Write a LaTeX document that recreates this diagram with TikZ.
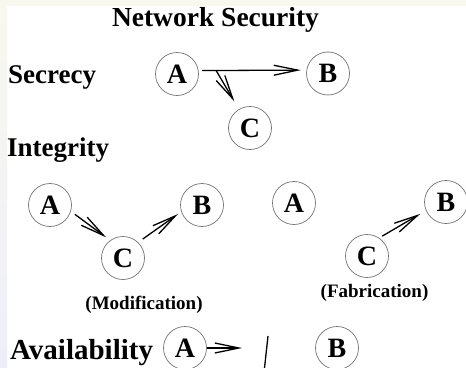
\documentclass[tikz,border=0pt]{standalone}
\usepackage{fontspec}
\setmainfont{Liberation Serif}
\usetikzlibrary{arrows.meta}
\definecolor{paper}{RGB}{248,248,238}
\definecolor{haze}{RGB}{238,238,250}
\begin{document}
\begin{tikzpicture}[x=1pt,y=-1pt,
  site/.style={circle, draw=black!55, line width=0.7pt, minimum size=43pt,
    inner sep=0pt, font=\fontsize{28}{28}\selectfont\bfseries},
  flow/.style={line width=1.3pt,
    -{Straight Barb[length=24pt,width=10pt,line width=1.3pt]}},
  heading/.style={anchor=base west, inner sep=0pt,
    font=\fontsize{27}{27}\selectfont\bfseries},
  caption/.style={anchor=base, inner sep=0pt,
    font=\fontsize{19}{19}\selectfont\bfseries}]
  \useasboundingbox (0,0) rectangle (466,367);
  \clip (0,0) rectangle (466,367);
  % page background with the slide frame along the top and left
  \fill[white] (0,0) rectangle (466,367);
  \fill[paper] (0,0) rectangle (466,6);
  \shade[top color=paper, bottom color=haze] (0,6) rectangle (7,367);

  % title
  \node[anchor=base, inner sep=0pt, font=\fontsize{27.5}{27.5}\selectfont\bfseries]
    (title) at (215.5,26) {Network Security};

  % secrecy: C listens in on A -> B
  \node[heading] (sec) at (8,83) {Secrecy};
  \node[site] (sA) at (177,74) {A};
  \node[site] (sB) at (328,73.5) {B};
  \node[site] (sC) at (250,128) {C};
  \draw[flow, shorten <=3.5pt, shorten >=5.5pt] (sA.9) -- (sB.171);
  \coordinate (tap) at (216,70.3);
  \draw[flow, shorten >=9pt] (tap) -- (sC);

  % integrity
  \node[heading] (integ) at (7,156) {Integrity};
  % modification
  \node[site] (mA) at (50,205) {A};
  \node[site] (mB) at (202,205) {B};
  \node[site] (mC) at (123,258) {C};
  \draw[flow, shorten <=5pt, shorten >=5pt] (mA.-17) -- (mC.126);
  \draw[flow, shorten <=5.5pt, shorten >=4pt] (mC.46) -- (mB.198);
  \node[caption] (modif) at (144,309) {(Modification)};
  % fabrication
  \node[site] (fA) at (294,203) {A};
  \node[site] (fB) at (446,202) {B};
  \node[site] (fC) at (367,256) {C};
  \draw[flow, shorten <=3.5pt, shorten >=6.5pt] (fC.56) -- (fB.203);
  \node[caption] (fabric) at (374.5,297) {(Fabrication)};

  % availability: the path from A is cut
  \node[heading, font=\fontsize{29}{29}\selectfont\bfseries] (avail) at (10,359) {Availability};
  \node[site] (vA) at (185,348) {A};
  \node[site] (vB) at (337,348) {B};
  \coordinate (cutend) at (242,348);
  \draw[flow] (vA.east) -- (cutend);
  \coordinate (cutTop) at (268,336);
  \coordinate (cutBot) at (264.5,368);
  \draw[line width=1.3pt] (cutTop) -- (cutBot);
\end{tikzpicture}
\end{document}
